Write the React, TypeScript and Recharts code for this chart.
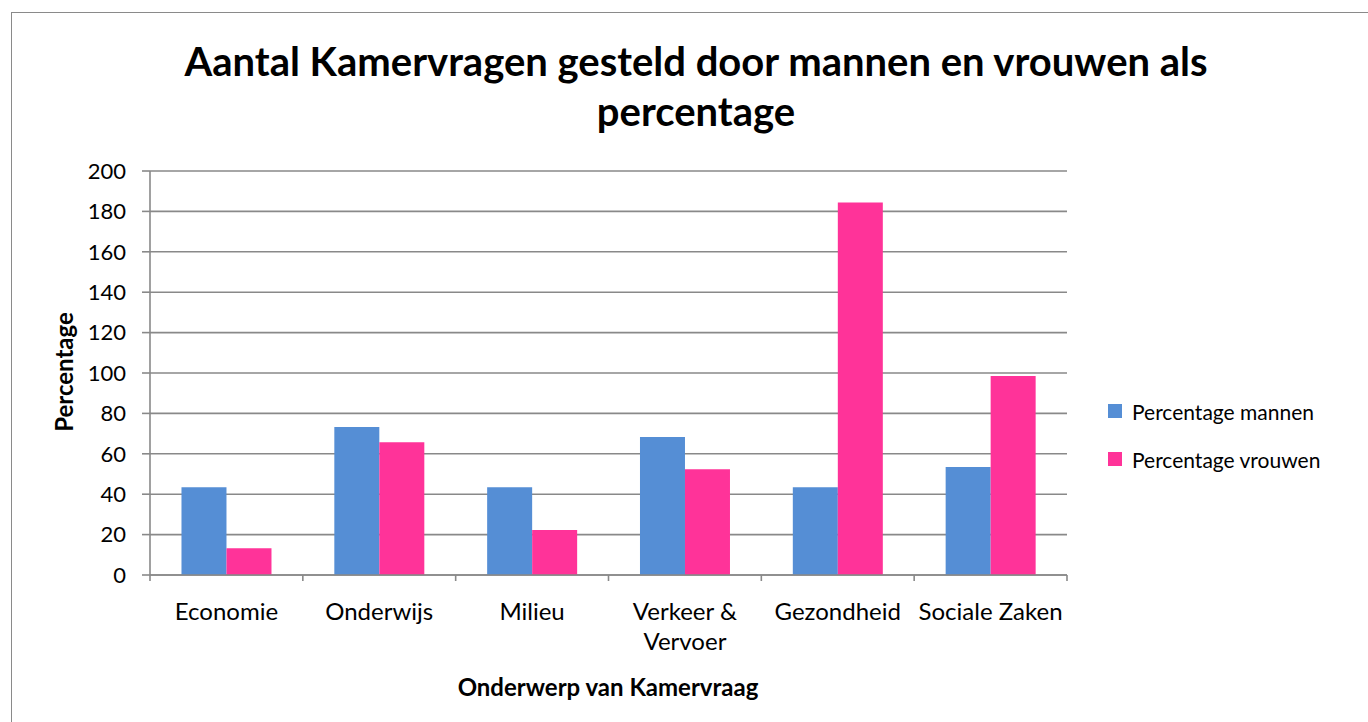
import React from 'react';
import { BarChart, Bar, XAxis, YAxis, CartesianGrid, Legend } from 'recharts';

const categories = ['Economie', 'Onderwijs', 'Milieu', 'Verkeer & Vervoer', 'Gezondheid', 'Sociale Zaken'];
const mannen = [43.5, 73.3, 43.5, 68.3, 43.5, 53.5];
const vrouwen = [13.3, 65.7, 22.3, 52.4, 184.4, 98.5];
const yTicks = [0, 20, 40, 60, 80, 100, 120, 140, 160, 180, 200];

const BLUE = '#558ED5';
const PINK = '#FF3399';
const GRID = '#898989';
const FONT = 'Lato, "Open Sans", sans-serif';

const data = categories.map((name, i) => ({
    name,
    mannen: mannen[i],
    vrouwen: vrouwen[i],
}));

// Excel-achtige afbreking van lange categorienamen
const wrap = (label: string, max = 14) => {
    const lines: string[] = [];
    let cur = '';
    label.split(' ').forEach((w) => {
        const next = cur ? cur + ' ' + w : w;
        if (next.length > max && cur) {
            lines.push(cur);
            cur = w;
        } else {
            cur = next;
        }
    });
    if (cur) lines.push(cur);
    return lines;
};

// label in het midden, streepjes op de grenzen tussen categorieën
const CategoryTick = (props: any) => {
    const { x, y, payload, index, width, visibleTicksCount } = props;
    const lines = wrap(String(payload.value));
    const half = width / (visibleTicksCount || categories.length) / 2;
    const last = index === (visibleTicksCount || categories.length) - 1;
    return (
        <g>
            <line x1={x - half} x2={x - half} y1={y} y2={y + 6} stroke={GRID} strokeWidth={1.6} />
            {last && <line x1={x + half} x2={x + half} y1={y} y2={y + 6} stroke={GRID} strokeWidth={1.6} />}
            <text x={x} y={y} textAnchor="middle" fontSize={24} fontFamily={FONT} fill="#000">
                {lines.map((l, i) => (
                    <tspan key={i} x={x} dy={i === 0 ? 45 : 30}>{l}</tspan>
                ))}
            </text>
        </g>
    );
};

const LegendContent = () => (
    <div style={{ fontFamily: FONT, fontSize: 21, color: '#000' }}>
        {[
            { label: 'Percentage mannen', color: BLUE },
            { label: 'Percentage vrouwen', color: PINK },
        ].map((it, i) => (
            <div key={i} style={{ display: 'flex', alignItems: 'center', height: 48 }}>
                <span style={{ width: 14, height: 14, background: it.color, marginRight: 10 }} />
                <span>{it.label}</span>
            </div>
        ))}
    </div>
);

const App: React.FC = () => {
    return (
        <div style={{ position: 'fixed', left: 0, top: 0, width: 1368, height: 722, overflow: 'hidden', background: '#fff' }}>
            <div style={{ position: 'absolute', left: 11, top: 12, width: 1400, height: 800, border: '1px solid #8a8a8a' }} />
            <div style={{ position: 'absolute', left: 0, top: 0 }}>
                <BarChart
                    width={1368}
                    height={722}
                    data={data}
                    margin={{ top: 171, right: 41, bottom: 0, left: 0 }}
                    barCategoryGap="20.6%"
                    barGap={0}
                >
                    <CartesianGrid vertical={false} stroke={GRID} strokeWidth={1.6} />
                    <XAxis
                        dataKey="name"
                        height={147}
                        axisLine={{ stroke: GRID, strokeWidth: 1.6 }}
                        tickLine={false}
                        tickSize={0}
                        tickMargin={0}
                        interval={0}
                        tick={<CategoryTick />}
                    />
                    <YAxis
                        width={150}
                        domain={[0, 200]}
                        ticks={yTicks}
                        interval={0}
                        tickSize={8}
                        tickMargin={16}
                        axisLine={{ stroke: GRID, strokeWidth: 1.6 }}
                        tickLine={{ stroke: GRID, strokeWidth: 1.6 }}
                        tick={{ fontSize: 22, fontFamily: FONT, fill: '#000' }}
                    />
                    <Legend
                        layout="vertical"
                        align="right"
                        verticalAlign="top"
                        content={<LegendContent />}
                        wrapperStyle={{ left: 1108, top: 387, width: 260 }}
                    />
                    <Bar dataKey="mannen" name="Percentage mannen" fill={BLUE} isAnimationActive={false} />
                    <Bar dataKey="vrouwen" name="Percentage vrouwen" fill={PINK} isAnimationActive={false} />
                </BarChart>
            </div>
            <div style={{ position: 'absolute', left: 0, width: 1392, top: 36, textAlign: 'center', fontFamily: FONT, fontWeight: 700, fontSize: 40, lineHeight: '50px', color: '#000' }}>
                Aantal Kamervragen gesteld door mannen en vrouwen als<br />percentage
            </div>
            <div style={{ position: 'absolute', left: 63, top: 372, transform: 'translate(-50%, -50%) rotate(-90deg)', whiteSpace: 'nowrap', fontFamily: FONT, fontWeight: 700, fontSize: 24, color: '#000' }}>
                Percentage
            </div>
            <div style={{ position: 'absolute', left: 608, top: 686, transform: 'translate(-50%, -50%)', whiteSpace: 'nowrap', fontFamily: FONT, fontWeight: 700, fontSize: 24, color: '#000' }}>
                Onderwerp van Kamervraag
            </div>
        </div>
    );
};

export default App;
